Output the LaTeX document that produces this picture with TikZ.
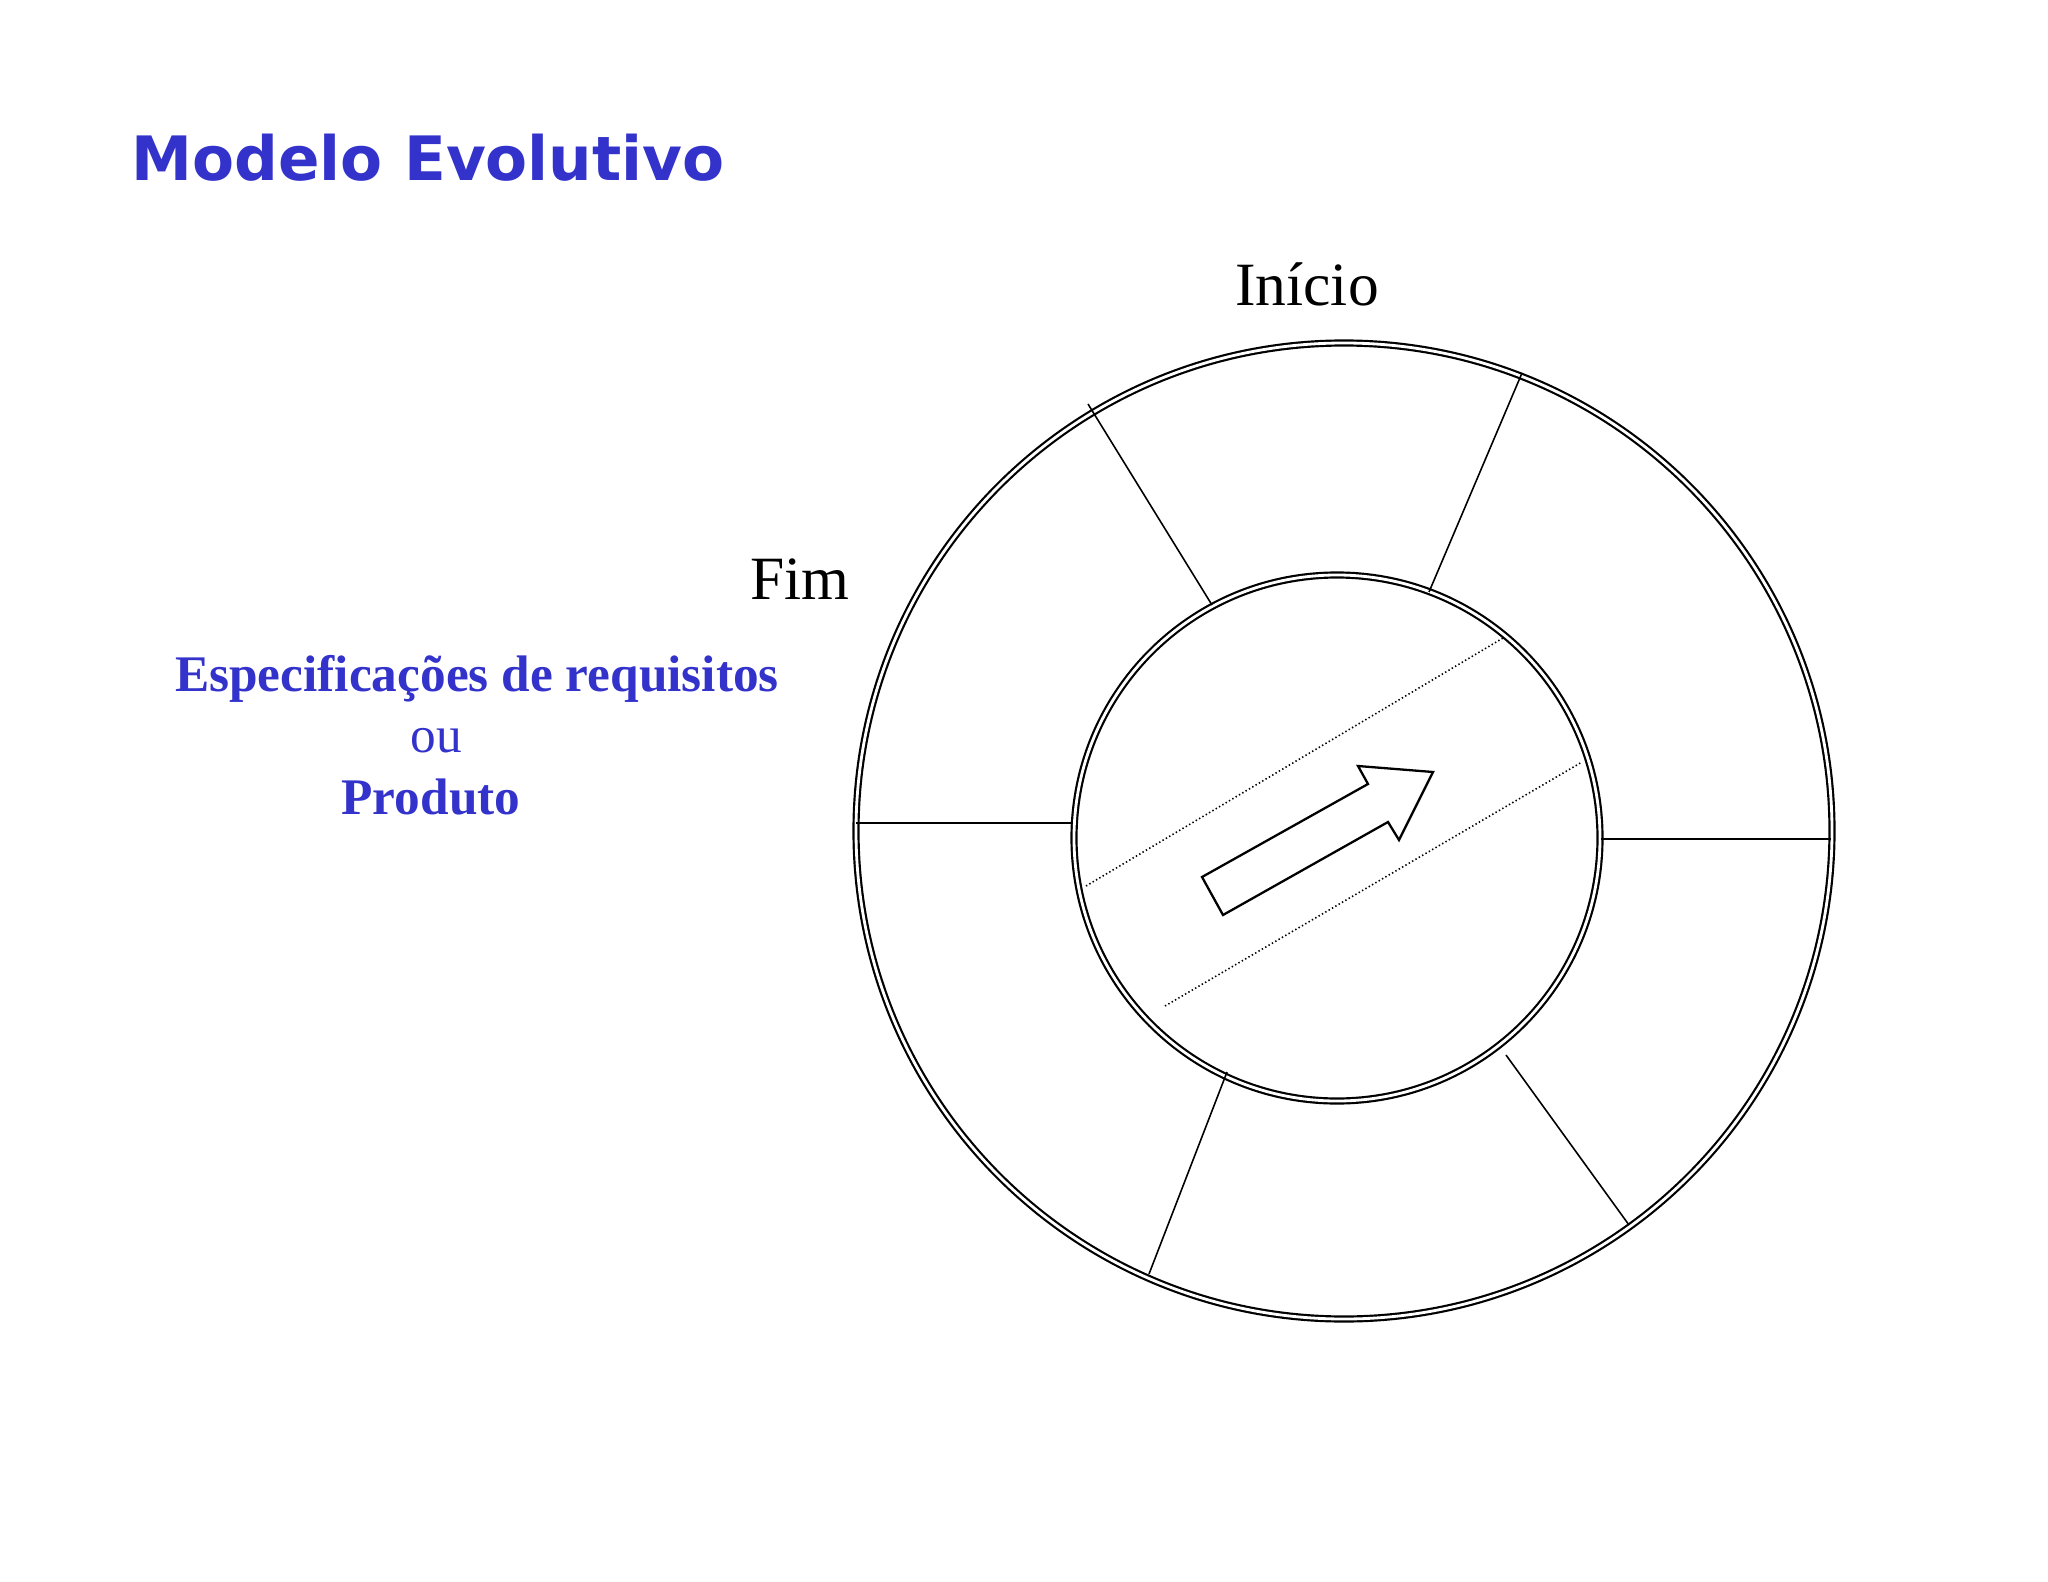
\documentclass[tikz,border=0pt]{standalone}
\usepackage{fontspec}
\setmainfont{Liberation Serif}
\newfontfamily\headfont{DejaVu Sans}
\usetikzlibrary{positioning}
\definecolor{evoblue}{RGB}{51,51,204}

\begin{document}
\begin{tikzpicture}[
    x=0.01cm, y=-0.01cm,
    ring/.style={draw, double, double distance=0.8pt, line width=0.62pt},
    spoke/.style={draw, line width=0.45pt},
    lane/.style={draw, line width=0.45pt, dash pattern=on 0.4pt off 0.7pt},
    bigarrow/.style={draw, line width=0.65pt, line join=miter},
    heading/.style={font=\headfont\bfseries\fontsize{17.4}{20}\selectfont,
            text=evoblue, inner sep=0pt, anchor=base west},
    tag/.style={font=\fontsize{17.5}{20}\selectfont, inner sep=0pt, anchor=base},
    spec/.style={font=\bfseries\fontsize{14.6}{17}\selectfont, text=evoblue,
            inner sep=0pt, anchor=base},
    ]
    \useasboundingbox (0,0) rectangle (2048,1582);

    \node[heading] (title) at (131,181) {Modelo Evolutivo};

    \node[tag] (inicio) at (1307,306) {Início};
    \node[tag] (fim) at (800,599) {Fim};

    \node[spec] (espec) at (477,691) {Especificações de requisitos};
    \node[spec, font=\fontsize{14.6}{17}\selectfont] (ou) at (436,752) {ou};
    \node[spec] (produto) at (431,814) {Produto};

    % rings
    \draw[ring] (1344,831) circle[radius=488];
    \draw[ring] (1337,838) circle[radius=263];

    % spokes between the rings
    \draw[spoke] (1088,404) -- (1212,605);
    \draw[spoke] (1522,373) -- (1429,592);
    \draw[spoke] (856,823) -- (1073,823);
    \draw[spoke] (1601,839) -- (1831,839);
    \draw[spoke] (1227,1072) -- (1149,1274);
    \draw[spoke] (1506,1055) -- (1629,1225);

    % dotted lanes and the arrow
    \draw[lane] (1086,886) -- (1503,638);
    \draw[lane] (1165,1006) -- (1582,762);
    \draw[bigarrow] (1202,877) -- (1223,915) -- (1388,822) -- (1399,840)
        -- (1433,772) -- (1358,766) -- (1368,784) -- cycle;
\end{tikzpicture}
\end{document}
